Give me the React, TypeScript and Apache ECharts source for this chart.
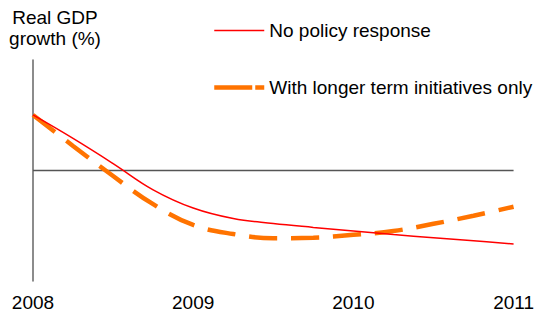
import React, { useEffect, useRef } from "react";
import * as echarts from "echarts";

// Year positions (quarterly steps) shared by both scenarios
const years = [2008, 2008.25, 2008.5, 2008.75, 2009, 2009.25, 2009.5, 2009.75, 2010, 2010.25, 2010.5, 2010.75, 2011];
const noPolicy = [2.01, 1.16, 0.25, -0.7, -1.36, -1.74, -1.92, -2.06, -2.19, -2.32, -2.43, -2.54, -2.66];
const longerTerm = [2.01, 0.89, -0.2, -1.22, -1.97, -2.3, -2.45, -2.43, -2.33, -2.19, -1.93, -1.64, -1.31];
const yearTicks = [2008, 2009, 2010, 2011];
const seriesNames = ["No policy response", "With longer term initiatives only"];

const FONT = "Liberation Sans, Arial, sans-serif";

export default function App() {
  const ref = useRef<HTMLDivElement>(null);

  useEffect(() => {
    if (!ref.current) return;
    const chart = echarts.init(ref.current, null, { renderer: "svg" });
    chart.setOption({
      animation: false,
      backgroundColor: "#ffffff",
      textStyle: { fontFamily: FONT },
      grid: { left: 33, right: 21, top: 60, bottom: 40 },
      graphic: [
        {
          type: "text",
          x: 55,
          y: 7,
          style: {
            text: "Real GDP\ngrowth (%)",
            align: "center",
            verticalAlign: "top",
            fontSize: 19,
            lineHeight: 21,
            fontFamily: FONT,
            fill: "#000",
          },
        },
      ],
      legend: {
        orient: "vertical",
        left: 212,
        top: 21,
        itemWidth: 50,
        itemHeight: 14,
        itemGap: 38,
        padding: 0,
        itemStyle: { opacity: 0, borderWidth: 0 },
        textStyle: { fontSize: 19, color: "#000", fontFamily: FONT },
        data: [
          { name: seriesNames[0], lineStyle: { width: 1.5 } },
          { name: seriesNames[1], lineStyle: { width: 4.5, type: [38, 3] } },
        ],
      },
      xAxis: {
        type: "value",
        min: yearTicks[0],
        max: yearTicks[yearTicks.length - 1],
        interval: 1,
        axisLine: { show: false },
        axisTick: { show: false },
        splitLine: { show: false },
        axisLabel: {
          margin: 12,
          fontSize: 19,
          color: "#000",
          fontFamily: FONT,
          formatter: (v: number) => String(v),
        },
      },
      yAxis: {
        type: "value",
        min: -4,
        max: 4,
        axisLine: { show: true, onZero: false, lineStyle: { color: "#666", width: 1.5 } },
        axisTick: { show: false },
        axisLabel: { show: false },
        splitLine: { show: false },
      },
      series: [
        {
          name: seriesNames[0],
          type: "line",
          smooth: 0.4,
          symbol: "none",
          data: years.map((y, i) => [y, noPolicy[i]]),
          lineStyle: { color: "#ff0000", width: 1.5 },
          itemStyle: { color: "#ff0000" },
          z: 3,
          markLine: {
            silent: true,
            symbol: "none",
            label: { show: false },
            lineStyle: { color: "#555", width: 1.3, type: "solid" },
            data: [{ yAxis: 0 }],
            z: 1,
          },
        },
        {
          name: seriesNames[1],
          type: "line",
          smooth: 0.4,
          symbol: "none",
          data: years.map((y, i) => [y, longerTerm[i]]),
          lineStyle: { color: "#ff7300", width: 4.5, type: [28, 14] },
          itemStyle: { color: "#ff7300" },
          z: 2,
        },
      ],
    });
    return () => chart.dispose();
  }, []);

  return (
    <div
      ref={ref}
      style={{ position: "fixed", left: 0, top: 0, width: 537, height: 321 }}
    />
  );
}
